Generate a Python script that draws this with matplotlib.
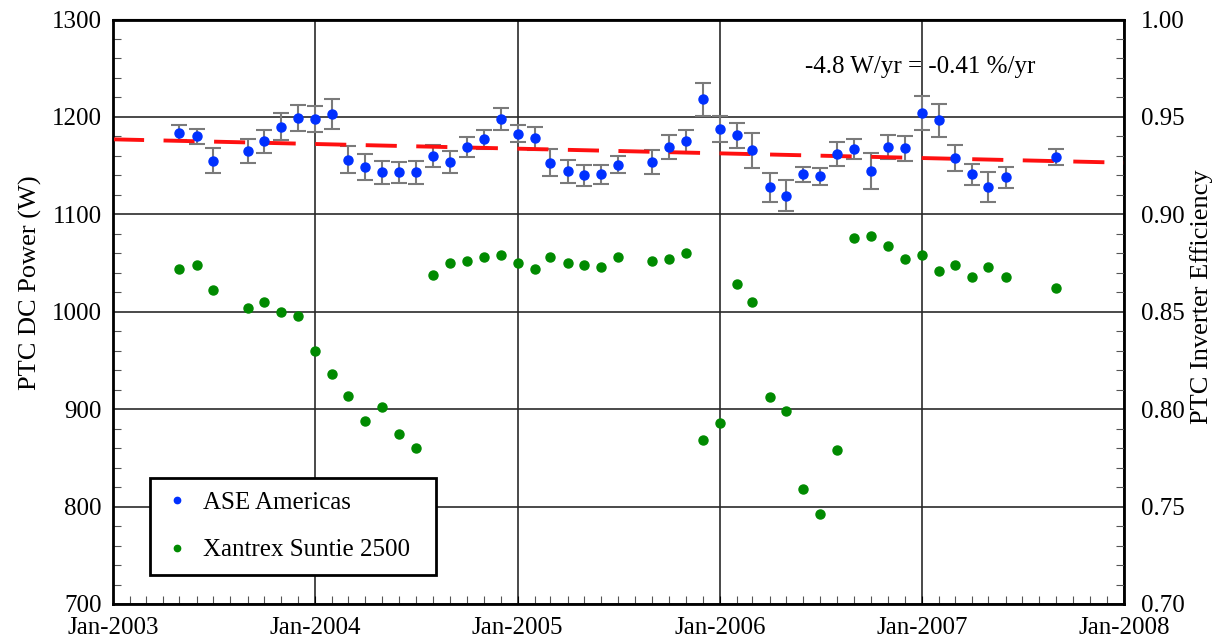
import datetime as dt
import matplotlib
matplotlib.use("Agg")
import matplotlib.pyplot as plt
import matplotlib.dates as mdates
from matplotlib.ticker import MultipleLocator, FormatStrFormatter

plt.rcParams['font.family'] = ['Liberation Serif', 'DejaVu Serif']

# measurement months (first of month)
meses = ([(2003, m) for m in [5, 6, 7, 9, 10, 11, 12]] +
         [(2004, m) for m in range(1, 13)] +
         [(2005, m) for m in [1, 2, 3, 4, 5, 6, 7, 9, 10, 11, 12]] +
         [(2006, m) for m in range(1, 13)] +
         [(2007, m) for m in [1, 2, 3, 4, 5, 6, 9]])

ase_power = [1184, 1180, 1155, 1165, 1175, 1190, 1199,
             1197.5, 1203, 1156, 1149, 1143, 1143, 1143, 1160, 1153.5, 1169, 1177, 1198,
             1182.5, 1178, 1153, 1144, 1140, 1141, 1151, 1153.5, 1169, 1175, 1218,
             1187.6, 1181, 1166, 1128, 1119, 1141, 1139, 1162, 1167, 1144.5, 1169, 1168,
             1204, 1196.5, 1158, 1141, 1128, 1138, 1159]

ase_err = [8.2, 7.7, 13, 12.3, 11.6, 14.2, 13,
           13.2, 15.8, 14, 13.4, 12, 11, 11.6, 11, 11, 10.3, 9.8, 11.3,
           8.7, 11.5, 13.7, 11.8, 10.8, 9.9, 8.6, 12.3, 12.3, 11.6, 17.3,
           13.4, 12.5, 18, 14.9, 15.8, 7.7, 8.6, 12.7, 9.9, 18.2, 12.2, 12.8,
           17.5, 17, 13.5, 10.8, 15.4, 11.1, 7.9]

xantrex_eff = [0.872, 0.874, 0.861, 0.852, 0.855, 0.850, 0.848,
               0.830, 0.818, 0.807, 0.794, 0.801, 0.787, 0.780, 0.869, 0.875, 0.876, 0.878, 0.879,
               0.875, 0.872, 0.878, 0.875, 0.874, 0.873, 0.878, 0.876, 0.877, 0.880, 0.784,
               0.793, 0.864, 0.855, 0.806, 0.799, 0.759, 0.746, 0.779, 0.888, 0.889, 0.884, 0.877,
               0.879, 0.871, 0.874, 0.868, 0.873, 0.868, 0.862]

# linear trend: -4.8 W/yr
trend_ini = 1177
trend_slope = -4.8
trend_anos = [2003, 2008]

datas = [dt.date(a, m, 1) for a, m in meses]
trend_x = [dt.date(a, 1, 1) for a in trend_anos]
trend_y = [trend_ini, trend_ini + trend_slope * (trend_anos[1] - trend_anos[0])]

fig = plt.figure(figsize=(12.18, 6.41), dpi=100)
ax = fig.add_axes([113 / 1218, 1 - 604 / 641, (1124 - 113) / 1218, (604 - 19.5) / 641])

ax.errorbar(datas, ase_power, yerr=ase_err, fmt='none', ecolor='#7a7a7a',
            elinewidth=1.5, capsize=6, capthick=1.5, zorder=2)
ax.plot(trend_x, trend_y, color='#ff1010', lw=2.8, dashes=(8, 5), zorder=3)
ax.plot(datas, ase_power, 'o', color='#0030ff', ms=6.5, zorder=4, label='ASE Americas')

ax.set_xlim(dt.date(2003, 1, 1), dt.date(2008, 1, 1))
ax.set_ylim(700, 1300)
ax.xaxis.set_major_locator(mdates.YearLocator())
ax.xaxis.set_minor_locator(mdates.MonthLocator())
ax.xaxis.set_major_formatter(mdates.DateFormatter('%b-%Y'))
ax.yaxis.set_major_locator(MultipleLocator(100))
ax.yaxis.set_minor_locator(MultipleLocator(20))
ax.grid(True, which='major', color='#2a2a2a', lw=1.2)
ax.tick_params(which='both', direction='in', labelsize=18)
ax.tick_params(which='major', length=0, pad=8)
ax.tick_params(which='minor', length=6, width=0.8, color='#555555')
ax.tick_params(axis='x', which='major', length=6, width=0.8, pad=9)
for s in ax.spines.values():
    s.set_linewidth(2)
ax.set_ylabel('PTC DC Power (W)', fontsize=19)
ax.yaxis.set_label_coords(-0.070, 0.549)

ax2 = ax.twinx()
ax2.plot(datas, xantrex_eff, 'o', color='#008a00', ms=6.5, label='Xantrex Suntie 2500')
ax2.set_ylim(0.70, 1.00)
ax2.yaxis.set_major_locator(MultipleLocator(0.05))
ax2.yaxis.set_minor_locator(MultipleLocator(0.01))
ax2.yaxis.set_major_formatter(FormatStrFormatter('%.2f'))
ax2.tick_params(which='both', direction='in', labelsize=18)
ax2.tick_params(which='major', length=0, pad=12)
ax2.tick_params(which='minor', length=6, width=0.8, color='#555555')
ax2.set_ylabel('PTC Inverter Efficiency', fontsize=19)
ax2.yaxis.set_label_coords(1.065, 0.525)

ax.text(0.684, 0.918, '-4.8 W/yr = -0.41 %/yr', transform=ax.transAxes,
        fontsize=18, va='center', ha='left')

h1, l1 = ax.get_legend_handles_labels()
h2, l2 = ax2.get_legend_handles_labels()
leg = ax2.legend(h1 + h2, l1 + l2, loc='lower left',
                 bbox_to_anchor=(0.0366, 0.0496, 0.283, 0.17), mode='expand',
                 borderaxespad=0, fontsize=18, markerscale=0.7, fancybox=False,
                 framealpha=1, edgecolor='black', borderpad=0.55, labelspacing=1.0,
                 handletextpad=0.5, handlelength=1.06)
leg.get_frame().set_linewidth(2)

fig.savefig('out.png', dpi=100)
